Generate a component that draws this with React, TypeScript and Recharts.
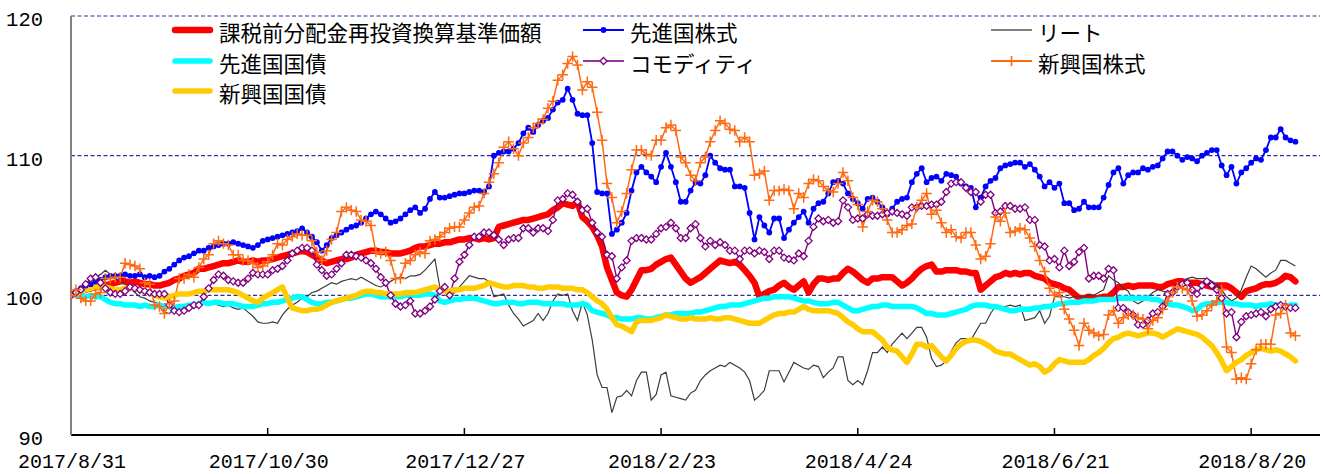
import React from 'react';
import { LineChart, Line, XAxis, YAxis, CartesianGrid } from 'recharts';

// ---- categories / ticks ----
const tickIndexes = [0, 40, 80, 120, 160, 200, 240];
const tickLabels = ['2017/8/31', '2017/10/30', '2017/12/27', '2018/2/23', '2018/4/24', '2018/6/21', '2018/8/20'];
const yTicks = [90, 100, 110, 120];

const seriesNames = [
  '課税前分配金再投資換算基準価額',
  '先進国株式',
  'リート',
  '先進国国債',
  'コモディティ',
  '新興国株式',
  '新興国国債',
];

// ---- series values (one per business day) ----
const fund = [
  100.0,100.1,100.3,100.4,100.5,100.6,100.6,100.7,100.8,100.9,
  101.0,101.0,100.9,101.0,100.9,100.8,100.8,100.7,100.7,100.8,
  100.9,101.1,101.2,101.4,101.5,101.6,101.9,101.9,102.0,102.1,
  102.2,102.3,102.3,102.4,102.5,102.4,102.4,102.5,102.4,102.5,
  102.5,102.6,102.7,102.8,102.9,103.0,103.1,103.2,103.1,102.9,
  102.7,102.5,102.3,102.4,102.5,102.6,102.6,102.7,102.9,103.0,
  103.1,103.2,103.2,103.1,103.1,103.0,103.0,103.0,103.1,103.2,
  103.4,103.5,103.5,103.6,103.7,103.7,103.8,103.8,103.9,104.0,
  104.0,104.1,104.1,104.0,104.1,104.0,104.1,104.9,105.0,105.1,
  105.2,105.3,105.4,105.4,105.5,105.6,105.7,105.8,106.1,106.3,
  106.6,106.5,106.4,106.7,105.6,105.3,104.9,104.3,103.5,102.0,
  101.1,100.2,100.0,99.9,100.4,101.1,101.8,101.8,101.9,102.2,
  102.4,102.6,102.7,102.2,101.7,101.2,100.9,101.1,101.3,101.6,
  101.9,102.2,102.5,102.4,102.3,102.4,102.2,101.8,101.4,100.9,
  99.9,100.1,100.3,100.4,100.7,100.9,100.6,100.4,100.7,101.0,
  100.2,100.8,101.2,101.2,101.1,101.2,101.2,101.6,101.9,101.7,
  101.4,101.1,100.9,101.2,101.2,101.3,101.3,101.3,101.0,100.7,
  100.9,101.2,101.6,101.9,102.1,102.2,101.7,101.7,101.8,101.8,
  101.8,101.7,101.7,101.6,101.6,100.4,100.7,101.0,101.3,101.4,
  101.6,101.5,101.6,101.5,101.6,101.6,101.4,101.3,101.2,100.9,
  100.8,100.7,100.5,100.4,100.1,99.8,99.8,99.9,99.8,99.8,
  99.9,99.9,100.2,100.6,100.6,100.7,100.6,100.7,100.7,100.7,
  100.7,100.6,100.6,100.8,100.9,101.0,101.0,100.9,100.9,100.9,
  100.8,100.7,100.6,100.7,100.7,100.7,100.5,100.2,99.9,100.3,
  100.4,100.5,100.7,100.8,100.8,100.9,101.1,101.4,101.3,101.0,
];

const devEquity = [
  100.1,100.3,100.5,100.7,100.8,101.0,101.1,101.3,101.4,101.4,
  101.4,101.5,101.4,101.4,101.5,101.3,101.4,101.3,101.4,101.7,
  101.9,102.2,102.5,102.7,102.8,103.0,103.2,103.2,103.4,103.5,
  103.6,103.7,103.7,103.8,103.7,103.6,103.5,103.4,103.6,103.9,
  104.0,104.1,104.2,104.3,104.4,104.5,104.6,104.8,104.5,104.2,
  103.8,103.2,103.6,104.1,104.3,104.5,104.7,104.9,105.0,105.2,
  105.5,105.8,106.0,105.8,105.5,105.2,105.3,105.5,105.8,106.1,
  106.3,105.9,106.2,106.9,107.4,107.0,107.0,107.1,107.2,107.3,
  107.3,107.4,107.5,107.5,107.4,107.8,110.0,110.2,110.3,110.3,
  110.5,110.9,111.6,112.0,111.7,112.2,112.5,112.7,113.3,113.8,
  114.0,114.8,114.0,113.0,112.9,112.9,110.9,107.4,107.3,107.3,
  104.4,104.7,105.2,105.9,107.5,108.8,109.2,108.8,108.5,108.1,
  109.2,110.2,109.2,108.1,106.7,106.7,107.5,108.1,108.0,108.6,
  110.0,109.5,109.1,109.0,109.0,107.8,107.8,107.7,105.9,104.0,
  105.6,105.0,104.5,105.5,105.5,104.1,104.7,105.2,105.6,106.0,
  105.2,106.2,106.6,106.7,107.3,108.1,108.2,108.0,107.3,106.9,
  106.6,106.2,106.9,107.0,106.7,106.3,105.8,106.2,106.7,106.9,
  107.0,108.1,108.7,109.1,108.1,108.4,108.5,108.2,108.7,108.6,
  108.5,108.0,107.8,107.7,106.3,107.0,107.8,108.2,108.4,109.1,
  109.3,109.4,109.5,109.5,109.2,109.4,109.0,108.5,107.8,108.1,
  107.7,108.0,106.6,106.6,106.1,106.2,106.7,106.3,106.3,106.3,
  107.0,107.9,108.8,109.1,108.0,108.6,108.8,108.8,109.1,109.0,
  109.2,109.3,109.8,110.3,110.3,110.0,109.7,109.9,109.8,109.6,
  110.0,110.2,110.4,110.4,109.3,108.6,109.2,108.0,108.8,109.1,
  109.5,109.8,109.7,110.4,111.3,111.3,111.9,111.3,111.1,111.0,
];

const reit = [
  100.0,100.3,100.6,100.9,101.1,101.3,101.5,101.8,101.5,101.2,
  101.0,100.8,100.5,100.2,99.9,99.8,99.6,99.5,99.4,98.8,
  98.7,99.0,99.1,99.3,99.2,99.1,99.2,99.4,99.3,99.4,
  99.3,99.2,99.3,99.1,99.0,99.1,98.8,98.5,98.1,98.0,
  98.0,98.1,98.0,98.6,99.0,99.3,99.5,99.8,99.9,100.2,
  100.3,100.5,100.7,100.9,100.8,101.0,101.1,101.2,101.1,101.3,
  101.1,100.9,100.7,100.6,100.8,101.0,101.2,101.3,101.2,101.4,
  101.4,101.5,101.8,102.2,102.6,100.6,100.3,99.9,100.2,100.6,
  101.0,101.4,101.3,101.2,101.2,101.0,99.9,100.0,100.1,99.3,
  98.7,98.3,97.8,98.0,98.2,98.7,98.2,98.7,99.6,100.1,
  100.0,100.1,98.9,98.2,99.5,98.6,96.8,94.3,93.4,93.4,
  91.6,92.7,92.8,93.2,92.8,93.9,94.5,94.5,92.5,92.9,
  94.3,94.5,92.8,92.7,92.6,92.5,93.0,93.2,93.9,94.3,
  94.6,94.8,95.0,94.9,95.2,95.0,94.8,94.5,93.9,92.5,
  92.8,93.2,94.6,94.6,94.6,93.8,94.5,95.2,95.0,94.8,
  94.7,95.0,94.9,94.1,94.5,94.8,95.6,95.6,93.9,93.6,
  93.9,93.6,94.6,95.9,95.9,96.3,95.9,96.5,96.9,97.3,
  96.9,97.3,97.7,97.7,97.0,95.5,94.9,95.0,95.3,96.0,
  96.6,96.9,96.9,96.8,97.4,98.0,98.0,98.7,99.2,99.2,
  99.2,99.3,99.2,99.3,98.2,98.3,98.4,98.9,98.0,98.5,
  99.9,99.9,99.9,99.8,99.9,99.9,99.9,100.0,100.0,100.2,
  100.4,101.4,101.1,100.9,100.5,100.3,99.6,99.4,99.6,99.9,
  100.2,100.4,100.3,100.2,100.4,100.7,101.0,101.2,101.3,101.2,
  101.2,101.2,101.0,100.8,100.4,99.9,99.6,99.8,100.4,101.3,
  102.1,101.9,101.6,101.3,101.6,101.8,102.5,102.5,102.3,102.1,
];

const devBond = [
  100.0,100.0,100.0,99.9,100.0,99.9,99.9,99.7,99.5,99.4,
  99.4,99.3,99.3,99.3,99.2,99.3,99.2,99.2,99.3,99.2,
  99.2,99.1,99.2,99.2,99.3,99.3,99.4,99.5,99.4,99.5,
  99.5,99.4,99.4,99.4,99.3,99.2,99.2,99.2,99.3,99.4,
  99.4,99.5,99.5,99.6,99.7,99.8,99.9,99.9,99.7,99.5,
  99.4,99.4,99.5,99.5,99.6,99.7,99.8,99.8,99.9,100.0,
  100.1,100.1,100.0,99.9,99.9,99.9,99.9,99.9,100.0,100.0,
  100.0,100.0,100.1,100.1,100.0,99.6,99.5,99.6,99.7,99.7,
  99.8,99.8,99.8,99.7,99.6,99.5,99.4,99.4,99.5,99.5,
  99.5,99.4,99.4,99.5,99.5,99.5,99.4,99.4,99.4,99.4,
  99.4,99.3,99.3,99.3,99.4,99.3,98.9,98.8,98.7,98.6,
  98.4,98.4,98.3,98.3,98.3,98.4,98.4,98.3,98.3,98.4,
  98.5,98.6,98.6,98.7,98.7,98.7,98.7,98.8,98.8,98.9,
  99.0,99.1,99.2,99.2,99.3,99.3,99.3,99.4,99.5,99.6,
  99.7,99.8,99.8,99.9,99.9,99.9,99.9,99.8,99.7,99.6,
  99.6,99.5,99.4,99.4,99.4,99.5,99.5,99.3,99.1,98.9,
  98.9,99.0,99.1,99.2,99.2,99.3,99.3,99.2,99.2,99.2,
  99.2,99.2,99.1,98.9,98.7,98.7,98.6,98.6,98.6,98.7,
  98.8,98.9,99.0,99.2,99.3,99.3,99.3,99.2,99.2,99.1,
  99.0,98.9,98.9,99.0,99.0,99.0,99.1,99.1,99.2,99.2,
  99.3,99.4,99.4,99.5,99.5,99.5,99.6,99.6,99.6,99.7,
  99.7,99.7,99.7,99.8,99.8,99.8,99.8,99.8,99.8,99.8,
  99.7,99.7,99.5,99.4,99.3,99.3,99.2,99.1,98.9,99.0,
  99.3,99.4,99.4,99.5,99.5,99.5,99.4,99.4,99.3,99.3,
  99.3,99.2,99.3,99.3,99.4,99.3,99.3,99.2,99.3,99.3,
];

const commodity = [
  100.0,100.2,100.4,100.8,101.2,101.3,100.9,100.5,100.2,100.1,
  100.1,100.3,100.6,100.5,100.4,100.3,100.2,100.1,100.1,100.1,
  99.3,98.9,98.8,98.9,99.1,99.3,99.3,99.9,100.5,101.1,
  101.5,101.4,101.1,101.0,100.9,100.9,101.2,101.6,101.5,101.5,
  101.5,101.8,101.9,102.1,102.5,103.0,103.2,103.4,103.4,103.2,
  102.2,101.8,101.4,101.5,101.9,102.3,102.9,102.9,102.8,102.7,
  102.5,102.3,101.9,101.3,100.9,100.0,99.4,99.2,99.3,99.6,
  98.7,98.7,98.9,99.2,99.7,100.3,100.6,100.0,101.2,102.4,
  102.9,103.6,104.2,104.2,104.5,104.5,104.3,104.0,103.6,104.0,
  104.1,104.1,104.8,104.8,104.5,104.8,104.8,104.6,105.4,106.8,
  106.9,107.3,107.2,106.7,106.1,106.2,105.2,104.5,104.2,102.9,
  102.8,101.2,102.0,102.5,103.9,104.1,104.1,104.0,104.0,104.4,
  104.8,104.9,105.2,104.8,104.1,104.1,104.8,105.1,104.1,103.5,
  103.9,103.6,103.8,103.6,103.2,103.2,102.6,103.2,103.2,103.0,
  103.2,103.1,102.6,103.2,103.2,102.7,102.6,102.5,103.0,102.8,
  103.9,104.9,105.5,105.3,105.4,105.2,105.3,106.8,106.3,105.4,
  105.5,105.5,105.8,105.7,105.7,105.8,105.9,106.0,105.9,105.8,
  105.7,106.3,106.3,106.4,106.4,106.5,106.5,106.7,107.4,108.0,
  108.1,108.1,107.7,107.4,107.4,106.7,107.2,107.2,105.9,106.0,
  106.4,106.4,106.2,106.2,106.3,105.4,105.4,103.6,103.5,102.5,
  102.6,102.0,103.2,102.1,102.4,103.1,103.4,101.2,101.4,101.4,
  101.2,101.9,101.8,99.1,99.1,98.8,98.6,97.9,97.9,98.2,
  98.7,98.8,99.2,100.1,100.2,100.6,100.8,100.9,100.4,100.1,
  100.7,101.0,100.7,100.4,99.8,98.7,98.8,97.0,98.1,98.5,
  98.6,98.7,98.8,98.5,99.0,99.2,99.3,99.2,99.1,99.1,
];

const emEquity = [
  100.0,100.4,99.8,99.6,99.6,100.1,100.2,101.2,101.2,101.3,
  101.3,102.3,102.2,102.1,101.9,100.9,100.8,99.3,99.2,98.7,
  99.4,99.6,101.2,101.2,101.5,101.3,102.0,102.6,102.9,103.7,
  103.9,103.7,103.6,102.9,102.9,102.5,102.5,102.3,102.0,102.1,
  102.4,102.9,103.7,103.6,104.0,104.2,104.4,104.3,104.3,103.9,
  103.1,102.5,103.2,104.0,104.5,106.0,106.3,106.1,106.0,105.4,
  105.3,105.0,103.1,103.0,103.1,102.5,101.2,101.2,102.3,102.5,
  102.9,103.1,103.0,103.9,104.0,104.2,104.5,104.8,104.9,104.9,
  105.4,105.9,106.3,106.4,107.3,108.1,108.7,109.5,110.6,111.0,
  110.5,110.0,110.9,111.3,112.0,112.3,112.6,113.4,113.9,115.4,
  115.8,116.6,117.1,116.5,114.7,115.3,114.9,113.1,111.1,108.0,
  107.0,105.2,106.0,107.3,109.0,110.4,110.4,110.1,110.0,111.1,
  111.1,112.0,112.2,111.8,109.9,109.5,108.6,108.2,109.5,109.9,
  111.0,111.8,112.5,112.3,111.9,111.8,111.0,111.3,111.0,108.6,
  108.7,108.9,106.8,107.5,107.5,107.6,107.5,106.2,107.3,107.0,
  108.0,108.3,108.2,107.8,107.5,107.4,108.0,108.8,108.2,107.0,
  106.5,104.9,106.0,106.8,106.7,106.2,105.4,104.5,104.5,104.7,
  105.0,105.1,106.3,106.8,107.3,105.8,106.1,105.2,104.5,104.7,
  104.2,104.1,104.5,104.5,103.6,102.6,102.8,103.7,105.6,105.3,
  105.9,104.5,104.6,104.8,104.7,104.1,103.5,102.5,101.7,100.5,
  100.0,100.2,99.0,98.3,97.5,96.4,98.0,97.5,97.3,97.1,
  97.2,98.6,98.9,98.0,98.4,98.6,98.6,98.4,98.3,97.6,
  98.2,98.4,99.0,99.6,100.2,100.6,100.5,100.4,99.6,98.5,
  98.6,98.9,99.3,99.6,100.4,96.3,95.9,94.0,94.1,94.0,
  95.1,96.1,96.5,96.5,96.5,98.6,98.7,99.3,97.3,97.1,
];

const emBond = [
  100.0,100.1,100.3,100.4,100.5,100.6,100.6,100.6,100.5,100.4,
  100.4,100.5,100.5,100.5,100.4,100.3,100.2,100.0,99.9,99.8,
  99.9,100.0,100.1,100.1,100.1,100.2,100.3,100.3,100.4,100.4,
  100.4,100.4,100.4,100.3,100.2,100.0,99.8,99.6,99.5,99.8,
  100.0,100.2,100.4,100.6,99.8,99.1,99.0,98.9,98.9,99.0,
  99.0,99.1,99.3,99.5,99.6,99.7,99.8,99.9,100.0,100.2,
  100.3,100.3,100.2,100.2,100.1,100.1,100.1,100.1,100.2,100.2,
  100.2,100.3,100.4,100.5,100.6,100.4,100.3,100.3,100.4,100.4,
  100.5,100.5,100.5,100.6,100.7,100.9,100.8,100.7,100.6,100.6,
  100.7,100.7,100.7,100.6,100.6,100.5,100.5,100.6,100.6,100.6,
  100.5,100.5,100.5,100.4,100.4,100.2,99.9,99.6,99.4,99.0,
  98.4,97.9,97.8,97.6,97.4,98.1,98.2,98.2,98.2,98.3,
  98.4,98.6,98.5,98.4,98.3,98.3,98.4,98.3,98.3,98.3,
  98.4,98.3,98.3,98.4,98.4,98.3,98.2,98.1,98.0,98.0,
  98.0,98.2,98.4,98.6,98.7,98.7,98.8,98.8,99.0,99.2,
  99.0,98.9,98.9,98.9,98.9,98.8,98.7,98.4,98.1,97.9,
  97.6,97.4,97.4,97.4,97.1,96.8,96.3,96.1,96.0,95.6,
  95.2,95.8,96.5,96.5,96.3,96.4,96.0,95.6,95.3,95.7,
  96.2,96.5,96.7,96.8,96.8,96.7,96.5,96.3,96.0,95.9,
  95.8,95.8,95.6,95.4,95.2,95.0,95.1,94.9,94.5,94.7,
  95.1,95.4,95.3,95.2,95.2,95.2,95.2,95.4,95.7,95.9,
  96.2,96.6,96.9,97.0,97.2,97.3,97.2,97.1,97.2,97.3,
  97.3,97.2,97.0,97.2,97.4,97.6,97.5,97.4,97.3,97.2,
  97.0,96.7,96.4,95.9,95.3,94.6,94.9,95.2,95.4,95.7,
  95.9,96.1,96.2,96.1,96.0,96.1,96.0,95.8,95.6,95.3,
];

const data = fund.map((v, i) => ({
  i,
  fund: v,
  devEquity: devEquity[i],
  reit: reit[i],
  devBond: devBond[i],
  commodity: commodity[i],
  emEquity: emEquity[i],
  emBond: emBond[i],
}));

const C = {
  fund: '#FF0000',
  devEquity: '#0000FF',
  reit: '#3C3C3C',
  devBond: '#00FFFF',
  commodity: '#800080',
  emEquity: '#FF6A13',
  emBond: '#FFCC00',
};

const tickFont = '"Liberation Mono", "DejaVu Sans Mono", monospace';
const cjkFont = '"Noto Sans CJK JP", "Noto Sans CJK SC", sans-serif';

const XTick = (props: any) => {
  const { x, y, payload } = props;
  const idx = tickIndexes.indexOf(payload.value);
  return (
    <g>
      {payload.value !== 0 && (
        <line x1={x} x2={x} y1={y} y2={y - 7} stroke="#000" strokeWidth={1.5} />
      )}
      <text x={x + 1} y={y + 33} textAnchor="middle" fontFamily={tickFont} fontSize={20} fill="#000">
        {tickLabels[idx]}
      </text>
    </g>
  );
};

const YTick = (props: any) => {
  const { x, y, payload } = props;
  return (
    <text x={x} y={y + 10} textAnchor="end" fontFamily={tickFont} fontSize={20.5} fill="#000">
      {payload.value}
    </text>
  );
};

const diamondDot = (props: any) => {
  const { cx, cy, index } = props;
  if (cx == null || cy == null) return <g key={`cd${index}`} />;
  const r = 3.5;
  return (
    <path
      key={`cd${index}`}
      d={`M${cx},${cy - r}L${cx + r},${cy}L${cx},${cy + r}L${cx - r},${cy}Z`}
      fill="#FFFFFF"
      stroke={C.commodity}
      strokeWidth={1.3}
    />
  );
};

const plusDot = (props: any) => {
  const { cx, cy, index } = props;
  if (cx == null || cy == null) return <g key={`pd${index}`} />;
  const r = 5.2;
  return (
    <path
      key={`pd${index}`}
      d={`M${cx - r},${cy}H${cx + r}M${cx},${cy - r}V${cy + r}`}
      stroke={C.emEquity}
      strokeWidth={1.5}
      fill="none"
    />
  );
};

const LegendOverlay = () => {
  const cols = [172, 583, 991];
  const rows = [30, 61, 91];
  const items = [
    { key: 'fund', col: 0, row: 0, w: 6.5, color: C.fund, marker: 'none' },
    { key: 'devEquity', col: 1, row: 0, w: 2, color: C.devEquity, marker: 'dot' },
    { key: 'reit', col: 2, row: 0, w: 2, color: '#808080', marker: 'none' },
    { key: 'devBond', col: 0, row: 1, w: 5.5, color: C.devBond, marker: 'none' },
    { key: 'commodity', col: 1, row: 1, w: 2, color: '#9933A0', marker: 'diamond' },
    { key: 'emEquity', col: 2, row: 1, w: 2, color: C.emEquity, marker: 'plus' },
    { key: 'emBond', col: 0, row: 2, w: 5.5, color: C.emBond, marker: 'none' },
  ];
  return (
    <svg width={1325} height={110} style={{ position: 'absolute', left: 0, top: 0, pointerEvents: 'none' }}>
      {items.map((it, k) => {
        const x0 = cols[it.col];
        const y0 = rows[it.row];
        const mx = x0 + 20.5;
        const thick = it.w > 4;
        return (
          <g key={it.key}>
            <line
              x1={thick ? x0 + 3 : x0}
              x2={thick ? x0 + 38 : x0 + 41}
              y1={y0}
              y2={y0}
              stroke={it.color}
              strokeWidth={it.w}
              strokeLinecap={thick ? 'round' : 'butt'}
            />
            {it.marker === 'dot' && <circle cx={mx} cy={y0} r={2.9} fill={C.devEquity} />}
            {it.marker === 'diamond' && (
              <path
                d={`M${mx},${y0 - 3.5}L${mx + 3.5},${y0}L${mx},${y0 + 3.5}L${mx - 3.5},${y0}Z`}
                fill="#fff"
                stroke={C.commodity}
                strokeWidth={1.3}
              />
            )}
            {it.marker === 'plus' && (
              <path d={`M${mx - 5},${y0}H${mx + 5}M${mx},${y0 - 5}V${y0 + 5}`} stroke={C.emEquity} strokeWidth={1.6} />
            )}
            <text
              x={x0 + 47}
              y={y0 + 1.5}
              dominantBaseline="central"
              fontFamily={cjkFont}
              fontSize={21.5}
              fill="#000"
            >
              {seriesNames[k]}
            </text>
          </g>
        );
      })}
    </svg>
  );
};

export default function App() {
  return (
    <div style={{ position: 'absolute', left: 0, top: 0, width: 1325, height: 474, background: '#fff' }}>
      <LineChart
        width={1325}
        height={474}
        data={data}
        margin={{ top: 16, right: 5, bottom: 0, left: 0 }}
      >
        <CartesianGrid vertical={false} stroke="#2E2E99" strokeDasharray="4 2.5" strokeWidth={1.1} />
        <XAxis
          dataKey="i"
          type="number"
          domain={[0, 254]}
          allowDataOverflow
          ticks={tickIndexes}
          interval={0}
          tickSize={0}
          tickMargin={0}
          tickLine={false}
          tick={<XTick />}
          axisLine={{ stroke: '#000', strokeWidth: 2 }}
          height={39}
        />
        <YAxis
          type="number"
          domain={[90, 120]}
          ticks={yTicks}
          interval={0}
          tickSize={0}
          tickMargin={28}
          tickLine={false}
          tick={<YTick />}
          axisLine={{ stroke: '#808080', strokeWidth: 2 }}
          width={71}
          allowDataOverflow
        />
        <Line dataKey="fund" name={seriesNames[0]} stroke={C.fund} strokeWidth={6.5} dot={false} activeDot={false}
          strokeLinejoin="round" strokeLinecap="round" isAnimationActive={false} />
        <Line dataKey="devEquity" name={seriesNames[1]} stroke={C.devEquity} strokeWidth={1.8}
          dot={{ r: 2.9, fill: C.devEquity, stroke: 'none' }} activeDot={false} isAnimationActive={false} />
        <Line dataKey="reit" name={seriesNames[2]} stroke={C.reit} strokeWidth={1.2} dot={false} activeDot={false}
          isAnimationActive={false} />
        <Line dataKey="devBond" name={seriesNames[3]} stroke={C.devBond} strokeWidth={5.5} dot={false} activeDot={false}
          strokeLinejoin="round" strokeLinecap="round" isAnimationActive={false} />
        <Line dataKey="commodity" name={seriesNames[4]} stroke={C.commodity} strokeWidth={1.4} dot={diamondDot}
          activeDot={false} isAnimationActive={false} />
        <Line dataKey="emEquity" name={seriesNames[5]} stroke={C.emEquity} strokeWidth={1.5} dot={plusDot}
          activeDot={false} isAnimationActive={false} />
        <Line dataKey="emBond" name={seriesNames[6]} stroke={C.emBond} strokeWidth={5.5} dot={false} activeDot={false}
          strokeLinejoin="round" strokeLinecap="round" isAnimationActive={false} />
      </LineChart>
      <LegendOverlay />
    </div>
  );
}
